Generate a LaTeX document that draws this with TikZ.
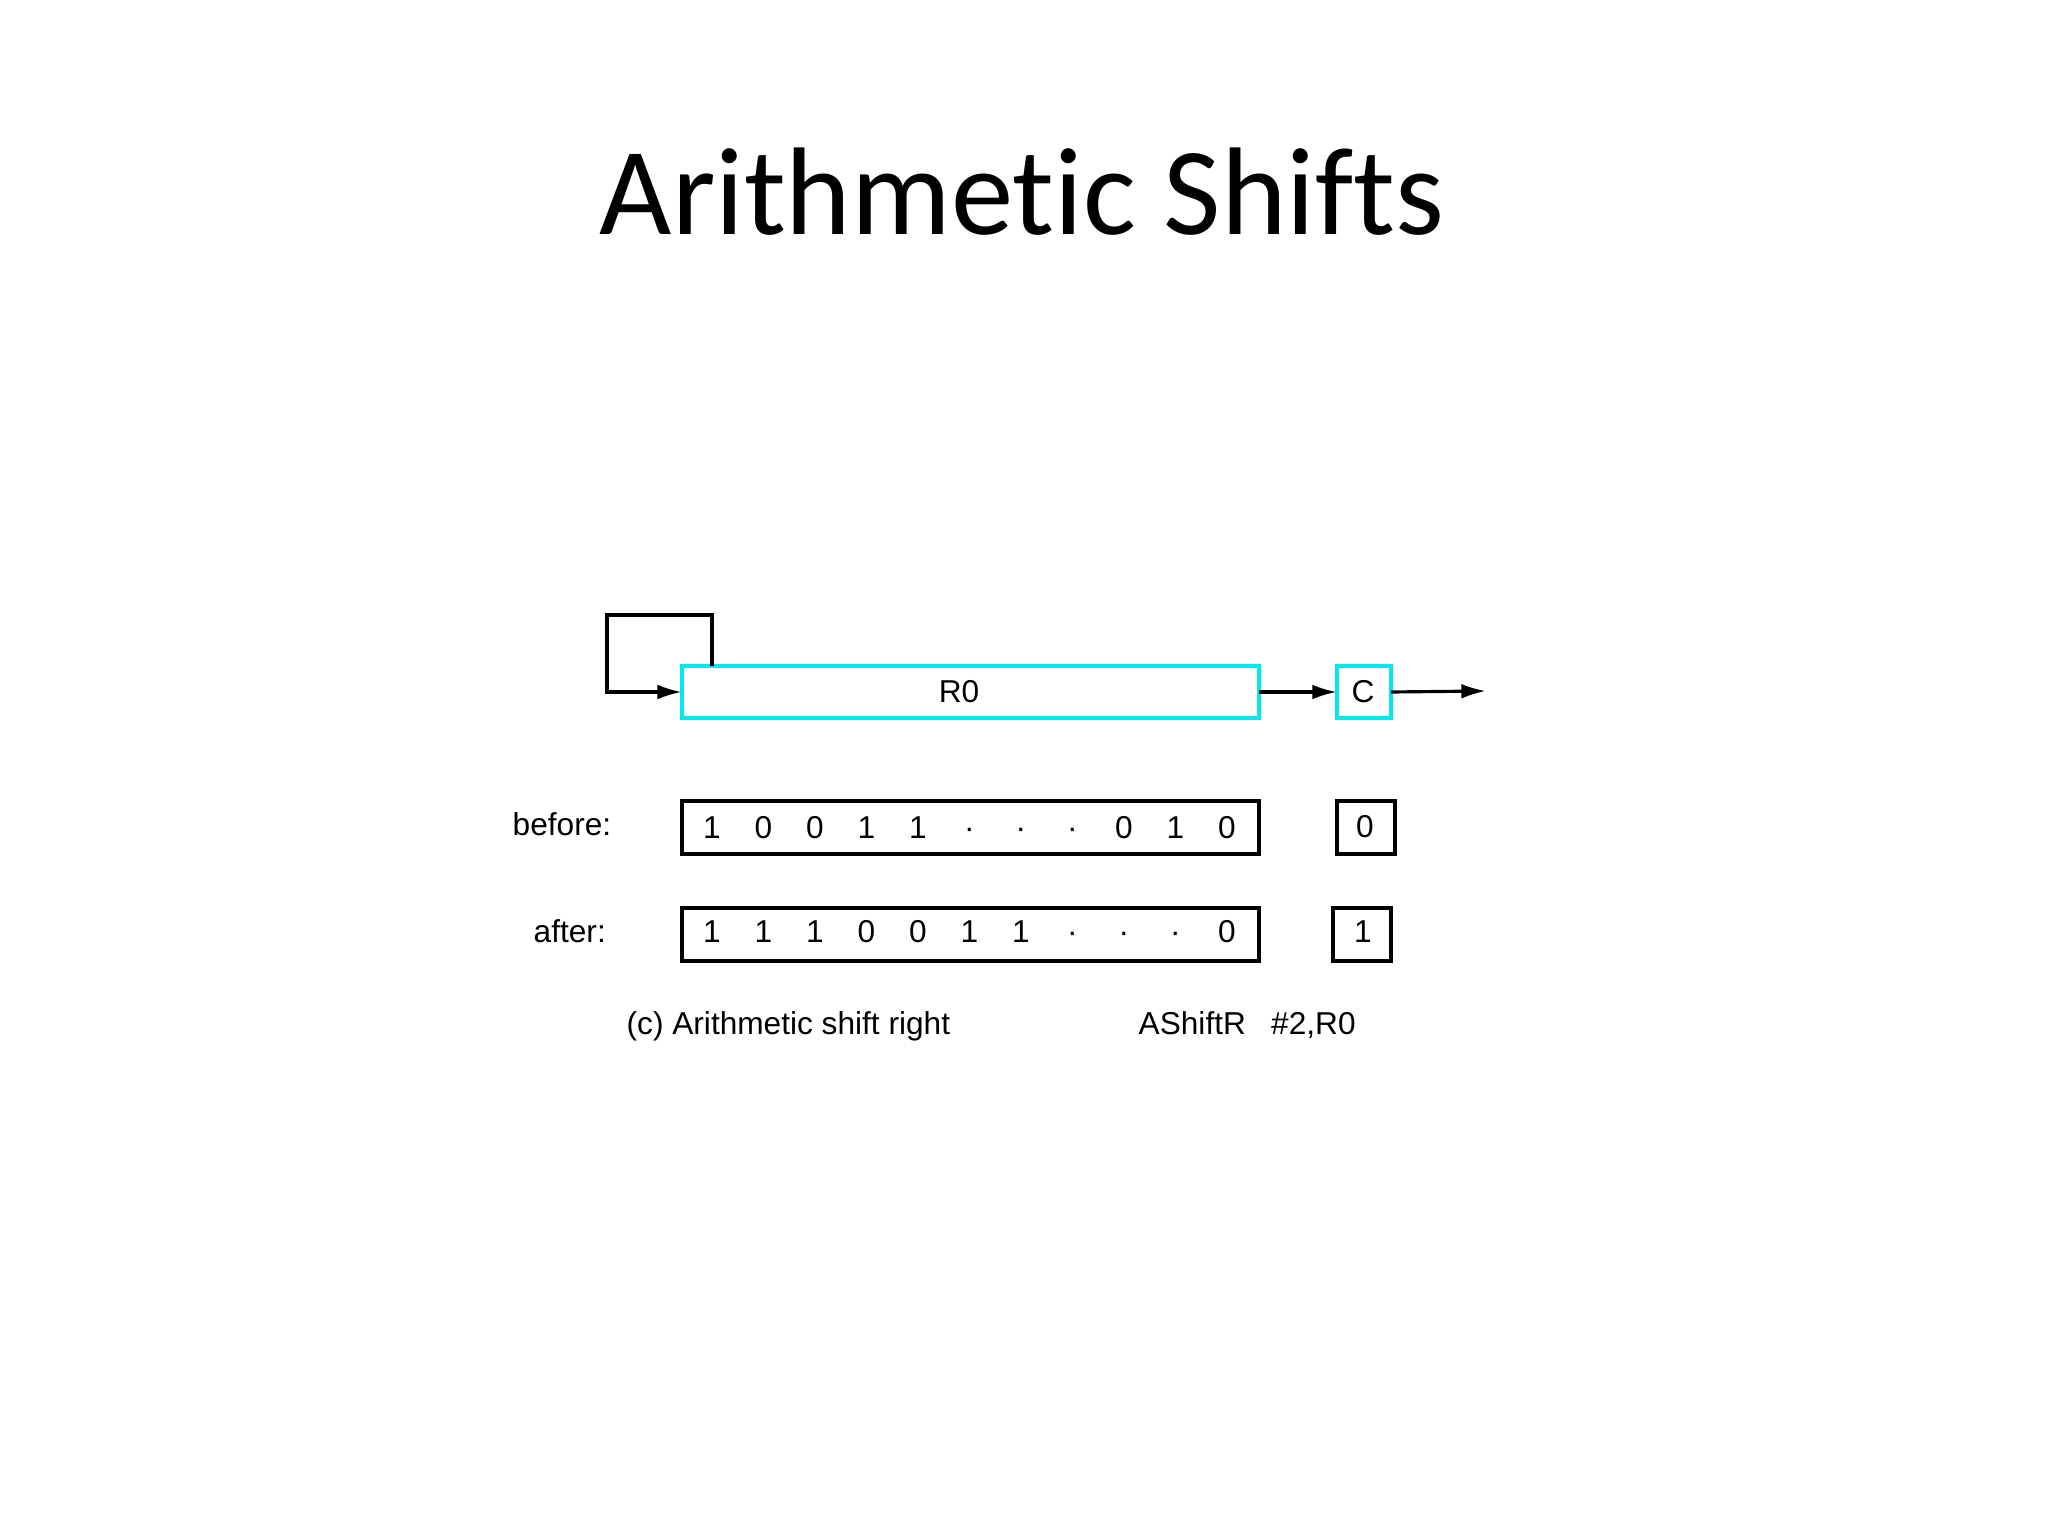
\documentclass[tikz,border=0pt]{standalone}
\usepackage{fontspec}
\setmainfont{Liberation Sans}
\newfontfamily\titlefont[Ligatures=NoCommon]{Carlito}
\usetikzlibrary{arrows.meta, calc, positioning}
\definecolor{regcyan}{RGB}{0,232,240}

\begin{document}
\begin{tikzpicture}[% styles used in image code
          > = {Latex[length=7pt, width=4.2pt]},
  reg/.style = {draw=regcyan, line width=0.9pt,
                minimum height=5.2mm, inner sep=0pt, outer sep=0pt},
  val/.style = {draw, line width=0.9pt,
                minimum height=5.3mm, inner sep=0pt, outer sep=0pt},
  lbl/.style = {font=\fontsize{9}{11}\selectfont, inner sep=0pt, anchor=base},
 wire/.style = {line width=0.9pt}
                    ]
    % page frame
    \useasboundingbox[fill=white] (0,0) rectangle (20.48,-15.36);

    \node[anchor=base, font=\titlefont\fontsize{35.5}{40}\selectfont]
         (title) at (10.22,-2.35) {Arithmetic Shifts};

    % register and carry
    \node[reg, minimum width=57.7mm] (R0) at (9.705,-6.92) {};
    \node[reg, minimum width=5.4mm]  (C)  at (13.64,-6.92) {};
    \node[lbl] (R0t) at (9.59,-7.03) {R0};
    \node[lbl] (Ct)  at (13.63,-7.03) {C};

    \coordinate (fb)  at (6.07,-6.15);
    \coordinate (out) at (14.86,-6.91);

    \draw[wire, ->] ($(R0.north west)+(0.3,0)$) |- (fb) |- (R0.west);
    \draw[wire, ->] (R0.east) -- (C.west);
    \draw[wire, ->] (C.east) -- (out);

    % before
    \node[val, minimum width=57.7mm] (before) at (9.705,-8.275) {};
    \node[val, minimum width=5.8mm]  (Cb)     at (13.66,-8.275) {};
    \foreach \b [count=\i] in {1,0,0,1,1,·,·,·,0,1,0}
        \node[lbl] (b\i) at ({7.12+0.515*(\i-1)},-8.385) {\b};
    \node[lbl] (cb) at (13.65,-8.37) {0};

    % after
    \node[val, minimum width=57.7mm] (after) at (9.705,-9.345) {};
    \node[val, minimum width=5.8mm]  (Ca)    at (13.62,-9.345) {};
    \foreach \b [count=\i] in {1,1,1,0,0,1,1,·,·,·,0}
        \node[lbl] (a\i) at ({7.12+0.515*(\i-1)},-9.425) {\b};
    \node[lbl] (ca) at (13.63,-9.425) {1};

    % labels
    \node[lbl, anchor=base west] (lb) at (5.12,-8.36) {before:};
    \node[lbl, anchor=base west] (la) at (5.33,-9.43) {after:};
    \node[lbl, anchor=base west] (cap) at (6.26,-10.34) {(c) Arithmetic shift right};
    \node[lbl, anchor=base west] (ins) at (11.38,-10.34) {AShiftR\hspace{0.8em}\#2,R0};
\end{tikzpicture}
\end{document}
